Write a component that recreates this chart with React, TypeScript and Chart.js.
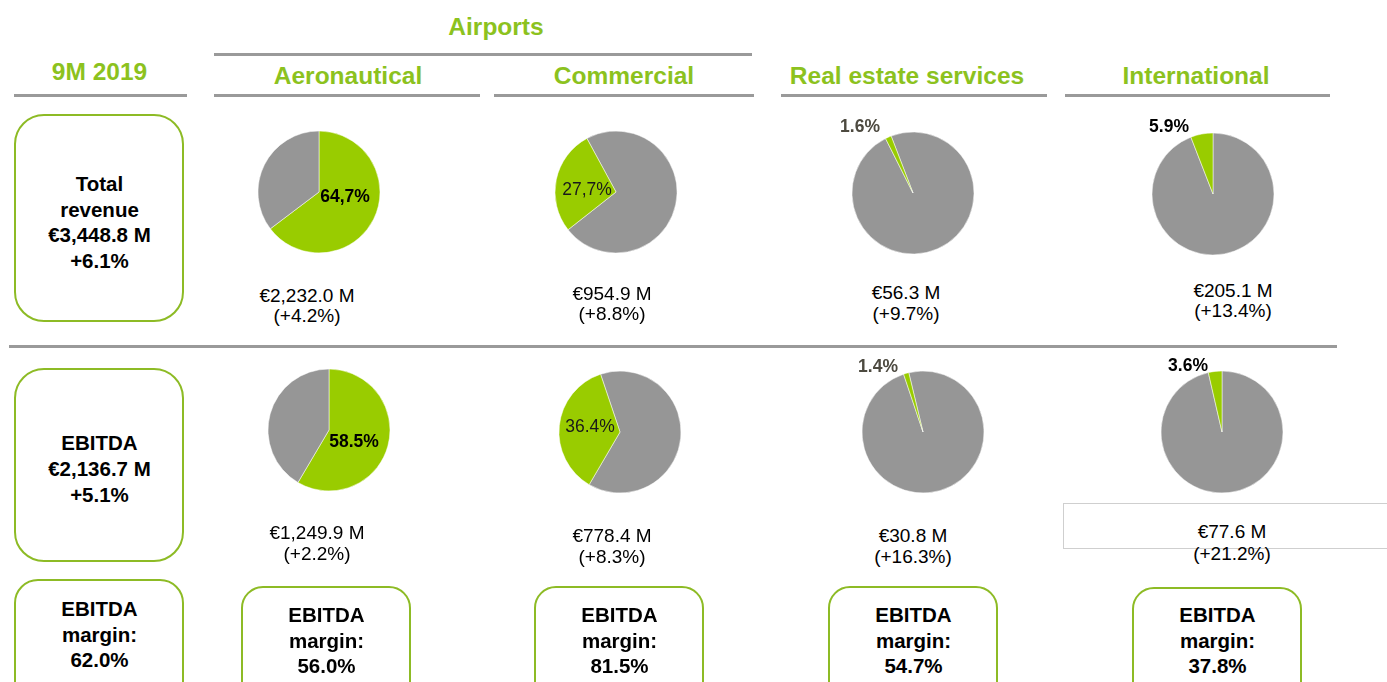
import React, { useEffect, useRef } from "react";
import { Chart, registerables } from "chart.js";

Chart.register(...registerables);

// ---- data ----
const periodLabel = "9M 2019";
const groupLabel = "Airports";
const segments = ["Aeronautical", "Commercial", "Real estate services", "International"];

const revenueShare = [64.7, 27.7, 1.6, 5.9];
const revenueRest = [35.3, 72.3, 98.4, 94.1];
const ebitdaShare = [58.5, 36.4, 1.4, 3.6];
const ebitdaRest = [41.5, 63.6, 98.6, 96.4];

const revenueAmounts = ["€2,232.0 M", "€954.9 M", "€56.3 M", "€205.1 M"];
const revenueGrowth = ["(+4.2%)", "(+8.8%)", "(+9.7%)", "(+13.4%)"];
const ebitdaAmounts = ["€1,249.9 M", "€778.4 M", "€30.8 M", "€77.6 M"];
const ebitdaGrowth = ["(+2.2%)", "(+8.3%)", "(+16.3%)", "(+21.2%)"];
const ebitdaMargins = ["56.0%", "81.5%", "54.7%", "37.8%"];

const totalRevenueLines = ["Total", "revenue", "€3,448.8 M", "+6.1%"];
const totalEbitdaLines = ["EBITDA", "€2,136.7 M", "+5.1%"];
const totalMarginLines = ["EBITDA", "margin:", "62.0%"];

// decimal mark used in each pie's percentage label
const revenueDecimalMarks = [",", ",", ".", "."];
const ebitdaDecimalMarks = [".", ".", ".", "."];

// ---- styling / layout ----
const GREEN = "#99CC00";
const GREY = "#969696";
const TEXT_GREEN = "#8CC21E";
const BOX_GREEN = "#8DBB25";
const RULE = "#9A9A9A";
const FONT = '"Liberation Sans", Arial, Helvetica, sans-serif';

const headerCenters = [348, 624, 907, 1196];
const headerRules: [number, number][] = [[214, 480], [494, 754], [781, 1047], [1065, 1330]];

type PieLayout = {
  cx: number; cy: number; shareFirst: boolean; rotation: number;
  lx: number; ly: number; bold: boolean; labelColor: string;
};

const revenuePies: PieLayout[] = [
  { cx: 319, cy: 192, shareFirst: true, rotation: 0, lx: 345, ly: 197, bold: true, labelColor: "#000" },
  { cx: 616, cy: 192, shareFirst: false, rotation: -28.5, lx: 587, ly: 190, bold: false, labelColor: "#1a1a1a" },
  { cx: 913, cy: 193, shareFirst: false, rotation: -21, lx: 860, ly: 127, bold: true, labelColor: "#4d4a40" },
  { cx: 1213, cy: 194, shareFirst: false, rotation: 0, lx: 1169, ly: 127, bold: true, labelColor: "#000" },
];
const ebitdaPies: PieLayout[] = [
  { cx: 329, cy: 430, shareFirst: true, rotation: 0, lx: 354, ly: 442, bold: true, labelColor: "#000" },
  { cx: 620, cy: 432, shareFirst: false, rotation: -18.6, lx: 590, ly: 427, bold: false, labelColor: "#1a1a1a" },
  { cx: 923, cy: 432, shareFirst: false, rotation: -13.5, lx: 878, ly: 367, bold: true, labelColor: "#4d4a40" },
  { cx: 1222, cy: 432, shareFirst: false, rotation: 0, lx: 1188, ly: 366, bold: true, labelColor: "#000" },
];

const revenueTextPos = [[307, 295, 315], [612, 293, 313], [906, 292, 313], [1233, 290, 310]];
const ebitdaTextPos = [[317, 532, 553], [612, 535, 556], [913, 535, 556], [1232, 531, 553]];
const marginBoxLeft = [241, 534, 828, 1132];

const PIE_SIZE = 132;
const PIE_RADIUS = 61;

function PieChart({ share, rest, layout }: { share: number; rest: number; layout: PieLayout }) {
  const ref = useRef<HTMLCanvasElement>(null);
  useEffect(() => {
    if (!ref.current) return;
    const values = layout.shareFirst ? [share, rest] : [rest, share];
    const colors = layout.shareFirst ? [GREEN, GREY] : [GREY, GREEN];
    const chart = new Chart(ref.current, {
      type: "pie",
      data: {
        labels: layout.shareFirst ? ["Segment", "Other"] : ["Other", "Segment"],
        datasets: [
          {
            data: values,
            backgroundColor: colors,
            borderColor: "#ffffff",
            borderWidth: 0.5,
            hoverBorderWidth: 0.5,
          },
        ],
      },
      options: {
        responsive: false,
        animation: false,
        events: [],
        rotation: layout.rotation,
        radius: PIE_RADIUS,
        layout: { padding: 0 },
        plugins: { legend: { display: false }, tooltip: { enabled: false } },
      },
    });
    return () => chart.destroy();
  }, [share, rest, layout]);
  return (
    <canvas
      ref={ref}
      width={PIE_SIZE}
      height={PIE_SIZE}
      style={{
        position: "absolute",
        left: layout.cx - PIE_SIZE / 2,
        top: layout.cy - PIE_SIZE / 2,
        width: PIE_SIZE,
        height: PIE_SIZE,
      }}
    />
  );
}

function Label({
  x, y, size, bold = false, color = "#000", children,
}: { x: number; y: number; size: number; bold?: boolean; color?: string; children: React.ReactNode }) {
  return (
    <div
      style={{
        position: "absolute",
        left: x,
        top: y,
        transform: "translate(-50%, -50%)",
        whiteSpace: "nowrap",
        fontSize: size,
        lineHeight: `${size}px`,
        fontWeight: bold ? 700 : 400,
        color,
      }}
    >
      {children}
    </div>
  );
}

function Rule({ x1, x2, y, h = 2.5 }: { x1: number; x2: number; y: number; h?: number }) {
  return <div style={{ position: "absolute", left: x1, top: y, width: x2 - x1, height: h, background: RULE }} />;
}

function RoundBox({
  left, top, width, height, radius, lines, firstY, step, centerX,
}: {
  left: number; top: number; width: number; height: number; radius: number;
  lines: string[]; firstY: number; step: number; centerX: number;
}) {
  return (
    <>
      <div
        style={{
          position: "absolute",
          left,
          top,
          width: width - 5,
          height: height - 5,
          border: `2.5px solid ${BOX_GREEN}`,
          borderRadius: radius,
          background: "#fff",
        }}
      />
      {lines.map((t, i) => (
        <Label key={i} x={centerX} y={firstY + i * step} size={20.5} bold>
          {t}
        </Label>
      ))}
    </>
  );
}

const pct = (v: number, mark: string) => `${v.toFixed(1).replace(".", mark)}%`;

export default function App() {
  return (
    <div
      style={{
        position: "absolute",
        left: 0,
        top: 0,
        width: 1387,
        height: 682,
        overflow: "hidden",
        background: "#fff",
        fontFamily: FONT,
      }}
    >
      {/* headers */}
      <Label x={496} y={27} size={24.5} bold color={TEXT_GREEN}>{groupLabel}</Label>
      <Rule x1={214} x2={752} y={53} />
      <Label x={99.5} y={72} size={24.5} bold color={TEXT_GREEN}>{periodLabel}</Label>
      <Rule x1={14} x2={187} y={94} />
      {segments.map((s, i) => (
        <React.Fragment key={s}>
          <Label x={headerCenters[i]} y={76} size={24.5} bold color={TEXT_GREEN}>{s}</Label>
          <Rule x1={headerRules[i][0]} x2={headerRules[i][1]} y={94} />
        </React.Fragment>
      ))}

      {/* middle separator */}
      <Rule x1={9} x2={1337} y={345} h={2.5} />

      {/* totals column */}
      <RoundBox left={14} top={114} width={171} height={209} radius={30}
        lines={totalRevenueLines} firstY={184} step={25.7} centerX={99.5} />
      <RoundBox left={14} top={368} width={171} height={195} radius={30}
        lines={totalEbitdaLines} firstY={443} step={26} centerX={99.5} />
      <RoundBox left={14} top={579} width={171} height={130} radius={24}
        lines={totalMarginLines} firstY={609} step={25.7} centerX={99.5} />

      {/* faint frame behind the international EBITDA figure */}
      <div style={{ position: "absolute", left: 1063, top: 503, width: 340, height: 44, border: "1px solid #cfcfcf" }} />

      {/* revenue pies */}
      {revenuePies.map((p, i) => (
        <React.Fragment key={`r${i}`}>
          <PieChart share={revenueShare[i]} rest={revenueRest[i]} layout={p} />
          <Label x={p.lx} y={p.ly} size={17.5} bold={p.bold} color={p.labelColor}>
            {pct(revenueShare[i], revenueDecimalMarks[i])}
          </Label>
          <Label x={revenueTextPos[i][0]} y={revenueTextPos[i][1]} size={19}>{revenueAmounts[i]}</Label>
          <Label x={revenueTextPos[i][0]} y={revenueTextPos[i][2]} size={19}>{revenueGrowth[i]}</Label>
        </React.Fragment>
      ))}

      {/* EBITDA pies */}
      {ebitdaPies.map((p, i) => (
        <React.Fragment key={`e${i}`}>
          <PieChart share={ebitdaShare[i]} rest={ebitdaRest[i]} layout={p} />
          <Label x={p.lx} y={p.ly} size={17.5} bold={p.bold} color={p.labelColor}>
            {pct(ebitdaShare[i], ebitdaDecimalMarks[i])}
          </Label>
          <Label x={ebitdaTextPos[i][0]} y={ebitdaTextPos[i][1]} size={19}>{ebitdaAmounts[i]}</Label>
          <Label x={ebitdaTextPos[i][0]} y={ebitdaTextPos[i][2]} size={19}>{ebitdaGrowth[i]}</Label>
        </React.Fragment>
      ))}

      {/* EBITDA margin boxes */}
      {marginBoxLeft.map((left, i) => (
        <RoundBox key={`m${i}`} left={left} top={i === 3 ? 587 : 586} width={171} height={130} radius={22}
          lines={["EBITDA", "margin:", ebitdaMargins[i]]} firstY={615} step={25.5} centerX={left + 85.5} />
      ))}
    </div>
  );
}
